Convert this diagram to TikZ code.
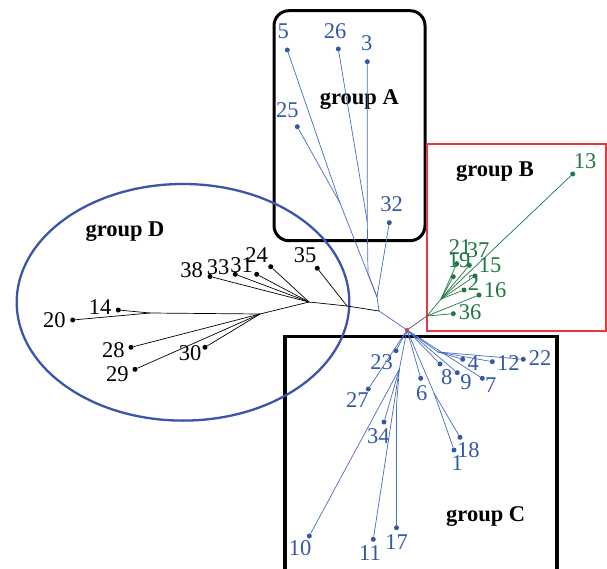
\documentclass[tikz,border=0pt]{standalone}
\usepackage{fontspec}
\setmainfont{Liberation Serif}
\definecolor{blueT}{RGB}{52,88,168}
\definecolor{blueL}{RGB}{70,110,190}
\definecolor{greenC}{RGB}{30,120,65}
\definecolor{ellC}{RGB}{60,85,170}
\definecolor{redB}{RGB}{232,55,65}
\tikzset{
  lab/.style={inner sep=0pt, font=\fontsize{22.5}{22.5}\selectfont},
  blab/.style={lab, text=blueT},
  glab/.style={lab, text=greenC},
  klab/.style={lab, text=black},
  grp/.style={inner sep=0pt, font=\fontsize{22.5}{22.5}\selectfont\bfseries},
  dotb/.style={circle, fill=blueT, inner sep=0pt, minimum size=5pt},
  dotg/.style={circle, fill=greenC, inner sep=0pt, minimum size=5pt},
  dotk/.style={circle, fill=black, inner sep=0pt, minimum size=5pt},
  bline/.style={draw=blueL, line width=0.7pt},
  gline/.style={draw=greenC, line width=0.7pt},
  kline/.style={draw=black, line width=0.7pt},
}
\begin{document}
\begin{tikzpicture}[x=1pt,y=-1pt]
\useasboundingbox (0,0) rectangle (607,569);
\fill[white] (0,0) rectangle (607,569);
% frames
\draw[line width=3pt, rounded corners=15pt] (274,10.7) rectangle (425,240.7);
\draw[redB, line width=2.5pt] (427,144) rectangle (606,331);
\draw[line width=3.5pt] (285,580) -- (285,336.7) -- (557,336.7) -- (557,580);
\draw[ellC, line width=2.3pt] (183,302.3) ellipse [x radius=166.3pt, y radius=118.3pt];
% group labels
\node[grp] (gA) at (359.3,99.3) {group A};
\node[grp] (gB) at (495,171.7) {group B};
\node[grp] (gC) at (485.7,516.7) {group C};
\node[grp] (gD) at (125,231.7) {group D};
% internal nodes
\coordinate (root) at (407,330);
\coordinate (N1) at (379,311);
\coordinate (N2) at (377,297);
\coordinate (A3) at (368,274);
\coordinate (A26) at (367.3,222);
\coordinate (A1) at (340,203);
\coordinate (D35) at (347,306);
\coordinate (N3) at (309,302);
\coordinate (N4) at (260,314);
\coordinate (N5) at (150,313);
\coordinate (B0) at (427,316);
\coordinate (B1) at (441,299);
\coordinate (C1) at (399.3,369.3);
\coordinate (C17) at (396.5,405);
\coordinate (C2) at (434,393);
\coordinate (C3) at (438,352);
% group A
\node[dotb] (d5) at (287.3,50) {};   \node[blab] at (283.3,31.7) {5};
\node[dotb] (d26) at (338.3,49) {};  \node[blab] at (335,30.7) {26};
\node[dotb] (d3) at (367.3,61.7) {}; \node[blab] at (366.7,43.3) {3};
\node[dotb] (d25) at (297.3,126.7) {}; \node[blab] at (287.3,110) {25};
\node[dotb] (d32) at (389.3,222.7) {}; \node[blab] at (391.7,204) {32};
% group B
\node[dotg] (d13) at (572.7,174) {}; \node[glab] at (585,160.7) {13};
\node[dotg] (d21) at (453.3,276.7) {}; \node[glab] at (460,246.7) {21};
\node[dotg] (d37) at (469.3,265.3) {}; \node[glab] at (478,250) {37};
\node[dotg] (d19) at (456.7,263.7) {}; \node[glab] at (459,260) {19};
\node[dotg] (d15) at (475,276) {}; \node[glab] at (490,265) {15};
\node[dotg] (d2) at (464,290) {}; \node[glab] at (473.5,283) {2};
\node[dotg] (d16) at (479,295) {}; \node[glab] at (495,290) {16};
\node[dotg] (d36) at (453.3,313.7) {}; \node[glab] at (470,311.7) {36};
% group D
\node[dotk] (d38) at (210,276.5) {}; \node[klab] at (191.7,270) {38};
\node[dotk] (d33) at (235.3,274.3) {}; \node[klab] at (218,266.7) {33};
\node[dotk] (d31) at (256.7,274.3) {}; \node[klab] at (241.7,265) {31};
\node[dotk] (d24) at (270.7,266.7) {}; \node[klab] at (256.7,255) {24};
\node[dotk] (d35) at (317.3,268.3) {}; \node[klab] at (305,255) {35};
\node[dotk] (d14) at (118.3,310) {}; \node[klab] at (100,307) {14};
\node[dotk] (d20) at (72.7,320) {}; \node[klab] at (54.3,320) {20};
\node[dotk] (d28) at (131,347.3) {}; \node[klab] at (113.3,350) {28};
\node[dotk] (d29) at (135,369.3) {}; \node[klab] at (117.3,374) {29};
\node[dotk] (d30) at (205,347.3) {}; \node[klab] at (190,353.3) {30};
% group C
\node[dotb] (d23) at (396,350.7) {}; \node[blab] at (381.7,361.7) {23};
\node[dotb] (d27) at (368.3,389) {}; \node[blab] at (357.3,400) {27};
\node[dotb] (d6) at (420.7,378.3) {}; \node[blab] at (421.7,393.3) {6};
\node[dotb] (d8) at (440,364) {}; \node[blab] at (446.7,376.7) {8};
\node[dotb] (d9) at (457.3,372.7) {}; \node[blab] at (466,381.7) {9};
\node[dotb] (d7) at (482.3,378.3) {}; \node[blab] at (490.7,385) {7};
\node[dotb] (d4) at (462.7,359.3) {}; \node[blab] at (473.3,363.3) {4};
\node[dotb] (d12) at (492.3,361.7) {}; \node[blab] at (508.3,363.3) {12};
\node[dotb] (d22) at (523.3,359.3) {}; \node[blab] at (540,358.3) {22};
\node[dotb] (d18) at (460,437.3) {}; \node[blab] at (468.3,450) {18};
\node[dotb] (d1) at (454,450) {}; \node[blab] at (457.3,463.3) {1};
\node[dotb] (d34) at (384,422) {}; \node[blab] at (378.3,436) {34};
\node[dotb] (d10) at (309.3,536) {}; \node[blab] at (300,548.3) {10};
\node[dotb] (d11) at (373.3,539.3) {}; \node[blab] at (370,553.3) {11};
\node[dotb] (d17) at (396.5,527.7) {}; \node[blab] at (396.7,541.7) {17};
% connectors: trunk
\draw[bline] (root) -- (N1);
\draw[draw=black!70, line width=0.7pt] (root) -- (B0);
\draw[bline] (N1) -- (N2);
\draw[kline] (N1) -- (D35);
% group A
\draw[bline] (N2) -- (d32);
\draw[bline] (N2) -- (A3) -- (A26) -- (d3);
\draw[bline] (A26) -- (d26);
\draw[bline] (N2) -- (A1);
\draw[bline] (A1) -- (d5);
\draw[bline] (A1) -- (d25);
% group D
\draw[kline] (D35) -- (d35);
\draw[kline] (D35) -- (N3);
\draw[kline] (N3) -- (d24);
\draw[kline] (N3) -- (d31);
\draw[kline] (N3) -- (d33);
\draw[kline] (N3) -- (d38);
\draw[kline] (N3) -- (N4);
\draw[kline] (N4) -- (N5);
\draw[kline] (N5) -- (d14);
\draw[kline] (N5) -- (d20);
\draw[kline] (N4) -- (d28);
\draw[kline] (N4) -- (d29);
\draw[kline] (N4) -- (d30);
% group B
\draw[gline] (B0) -- (d36);
\draw[gline] (B0) -- (d16);
\draw[gline] (B0) -- (B1);
\draw[gline] (B1) -- (d13);
\draw[gline] (B1) -- (d2);
\draw[gline] (B1) -- (d15);
\draw[gline] (B1) -- (d37);
\draw[gline] (B1) -- (d19);
\draw[gline] (B1) -- (d21);
% group C
\draw[bline] (root) -- (d23);
\draw[bline] (root) -- (d27);
\draw[bline] (root) -- (C1);
\draw[bline] (C1) -- (d10);
\draw[bline] (C1) -- (d34);
\draw[bline] (C1) -- (d11);
\draw[bline] (C1) -- (C17) -- (d17);
\draw[bline] (root) -- (d6);
\draw[bline] (root) -- (C2);
\draw[bline] (C2) -- (d18);
\draw[bline] (C2) -- (d1);
\draw[bline] (root) -- (d8);
\draw[bline] (root) -- (d9);
\draw[bline] (root) -- (d7);
\draw[bline] (root) -- (C3);
\draw[bline] (C3) -- (d4);
\draw[bline] (C3) -- (d12);
\draw[bline] (C3) -- (d22);
\node[circle, fill=redB, inner sep=0pt, minimum size=4pt] (rootdot) at (root) {};
\end{tikzpicture}
\end{document}
